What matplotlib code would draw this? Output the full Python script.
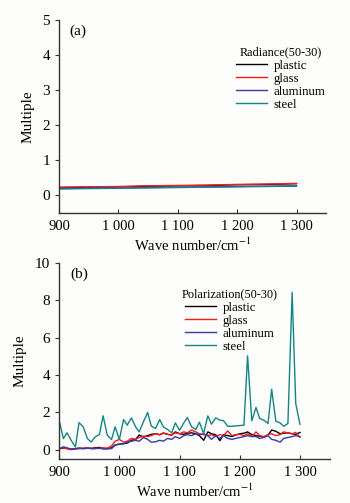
import matplotlib
matplotlib.use("Agg")
import matplotlib.pyplot as plt
from matplotlib.ticker import FuncFormatter

plt.rcParams['font.family'] = ['Liberation Serif', 'DejaVu Serif']
plt.rcParams['mathtext.fontset'] = 'stix'

materials = ["plastic", "glass", "aluminum", "steel"]
colors = ["#000000", "#ff1a1a", "#3a3aaa", "#138585"]

# (a) radiance ratio
wave_a = [900, 950, 1000, 1050, 1100, 1150, 1200, 1250, 1300]
rad_plastic = [0.22, 0.23, 0.24, 0.26, 0.27, 0.28, 0.30, 0.31, 0.33]
rad_glass = [0.23, 0.24, 0.25, 0.27, 0.28, 0.29, 0.31, 0.32, 0.34]
rad_aluminum = [0.19, 0.20, 0.21, 0.22, 0.23, 0.24, 0.25, 0.26, 0.27]
rad_steel = [0.18, 0.19, 0.20, 0.21, 0.22, 0.23, 0.24, 0.25, 0.26]

# (b) polarization ratio
wave_b = [900, 907, 913, 920, 927, 933, 940, 947, 953, 960,
          967, 973, 980, 987, 993, 1000, 1007, 1013, 1020, 1027,
          1033, 1040, 1047, 1053, 1060, 1067, 1073, 1080, 1087, 1093,
          1100, 1107, 1113, 1120, 1127, 1133, 1140, 1147, 1153, 1160,
          1167, 1173, 1180, 1187, 1193, 1200, 1207, 1213, 1220, 1227,
          1233, 1240, 1247, 1253, 1260, 1267, 1273, 1280, 1287, 1293,
          1300]
pol_plastic = [0.05, 0.08, 0.06, 0.03, 0.05, 0.08, 0.06, 0.08, 0.07, 0.10,
               0.12, 0.06, 0.04, 0.10, 0.25, 0.30, 0.32, 0.35, 0.50, 0.55,
               0.78, 0.68, 0.75, 0.82, 0.85, 0.80, 0.88, 0.82, 0.78, 0.95,
               0.85, 0.82, 0.88, 0.90, 0.85, 0.75, 0.50, 0.95, 0.85, 0.80,
               0.48, 0.80, 0.75, 0.70, 0.78, 0.85, 0.88, 0.95, 0.80, 0.75,
               0.72, 0.68, 0.78, 1.05, 0.98, 0.85, 0.88, 0.90, 0.85, 0.82,
               0.92]
pol_glass = [0.05, 0.10, 0.05, 0.00, 0.03, 0.05, 0.08, 0.10, 0.05, 0.08,
             0.06, 0.10, 0.08, 0.20, 0.45, 0.55, 0.40, 0.45, 0.60, 0.55,
             0.65, 0.72, 0.70, 0.75, 0.85, 0.80, 0.90, 0.82, 0.78, 0.90,
             0.85, 0.95, 0.90, 1.05, 0.95, 0.85, 0.80, 0.75, 0.80, 0.70,
             0.80, 0.75, 1.00, 0.75, 0.80, 0.82, 0.75, 0.85, 0.70, 0.95,
             0.75, 0.70, 0.80, 0.85, 0.75, 0.80, 0.95, 0.90, 0.85, 0.92,
             0.65]
pol_aluminum = [0.05, 0.15, 0.10, 0.02, 0.05, 0.08, 0.05, 0.08, 0.06, 0.05,
                0.08, 0.04, 0.06, 0.05, 0.25, 0.28, 0.32, 0.40, 0.45, 0.50,
                0.45, 0.65, 0.55, 0.40, 0.42, 0.50, 0.45, 0.60, 0.55, 0.70,
                0.60, 0.75, 0.80, 0.75, 0.85, 0.80, 0.85, 0.75, 0.55, 0.75,
                0.60, 0.75, 0.60, 0.55, 0.60, 0.65, 0.70, 0.75, 0.70, 0.70,
                0.60, 0.65, 0.75, 0.55, 0.50, 0.40, 0.60, 0.65, 0.70, 0.75,
                0.70]
pol_steel = [1.58, 0.59, 0.90, 0.50, 0.14, 1.45, 1.22, 0.59, 0.41, 0.68,
             0.82, 1.81, 0.77, 0.54, 1.22, 0.54, 1.61, 1.31, 1.70, 1.22,
             0.95, 1.49, 1.99, 1.27, 1.13, 1.61, 1.22, 1.08, 0.90, 1.43,
             1.04, 1.43, 1.72, 1.22, 1.08, 1.47, 0.86, 1.81, 1.36, 1.70,
             1.58, 1.55, 1.25, 1.25, 1.27, 1.29, 1.31, 5.02, 1.54, 2.26,
             1.67, 1.58, 1.40, 3.23, 1.52, 1.43, 1.25, 1.40, 8.42, 2.47,
             1.36]

xticks = [900, 1000, 1100, 1200, 1300]


def fmt_wave(v, pos):
    v = int(round(v))
    return f"{v:,}".replace(",", " ")


def style_axes(ax, ylim, yticks):
    ax.set_xlim(900, 1350)
    ax.set_ylim(*ylim)
    ax.set_xticks(xticks)
    ax.set_yticks(yticks)
    ax.xaxis.set_major_formatter(FuncFormatter(fmt_wave))
    ax.spines['top'].set_visible(False)
    ax.spines['right'].set_visible(False)
    for s in ('left', 'bottom'):
        ax.spines[s].set_color('#333333')
        ax.spines[s].set_linewidth(1.0)
    ax.tick_params(axis='x', direction='in', length=3, labelsize=10.5, pad=5, color='#333333')
    ax.tick_params(axis='y', direction='out', length=3, labelsize=11, color='#333333')
    ax.set_ylabel('Multiple', fontsize=11, labelpad=6)
    ax.set_xlabel('Wave number/cm$^{-1}$', fontsize=10.5, labelpad=3)
    ax.set_facecolor('#fdfdfb')


fig = plt.figure(figsize=(3.5, 5.03), dpi=100)
fig.patch.set_facecolor('#fdfdfb')

ax1 = fig.add_axes([0.169, 0.577, 0.763, 0.383])
rad = [rad_plastic, rad_glass, rad_aluminum, rad_steel]
for name, c, vals in zip(materials, colors, rad):
    ax1.plot(wave_a, vals, color=c, lw=1.0, label=name)
style_axes(ax1, (-0.5, 5), [0, 1, 2, 3, 4, 5])
ax1.text(0.04, 0.94, '(a)', transform=ax1.transAxes, fontsize=11, va='center')
leg1 = ax1.legend(loc='upper right', bbox_to_anchor=(1.03, 0.91), frameon=False,
                  fontsize=9.3, title='Radiance(50-30)', title_fontsize=8.8,
                  handlelength=2.4, handletextpad=0.5, labelspacing=0.08,
                  borderpad=0.2)

ax2 = fig.add_axes([0.169, 0.0875, 0.774, 0.39])
pol = [pol_plastic, pol_glass, pol_aluminum, pol_steel]
for name, c, vals in zip(materials, colors, pol):
    ax2.plot(wave_b, vals, color=c, lw=1.0, label=name)
style_axes(ax2, (-0.5, 10), [0, 2, 4, 6, 8, 10])
ax2.text(0.04, 0.94, '(b)', transform=ax2.transAxes, fontsize=11, va='center')
leg2 = ax2.legend(loc='upper right', bbox_to_anchor=(0.84, 0.915), frameon=False,
                  fontsize=9.3, title='Polarization(50-30)', title_fontsize=8.8,
                  handlelength=2.4, handletextpad=0.5, labelspacing=0.08,
                  borderpad=0.2)

fig.savefig('out.png', dpi=100, facecolor=fig.get_facecolor())
